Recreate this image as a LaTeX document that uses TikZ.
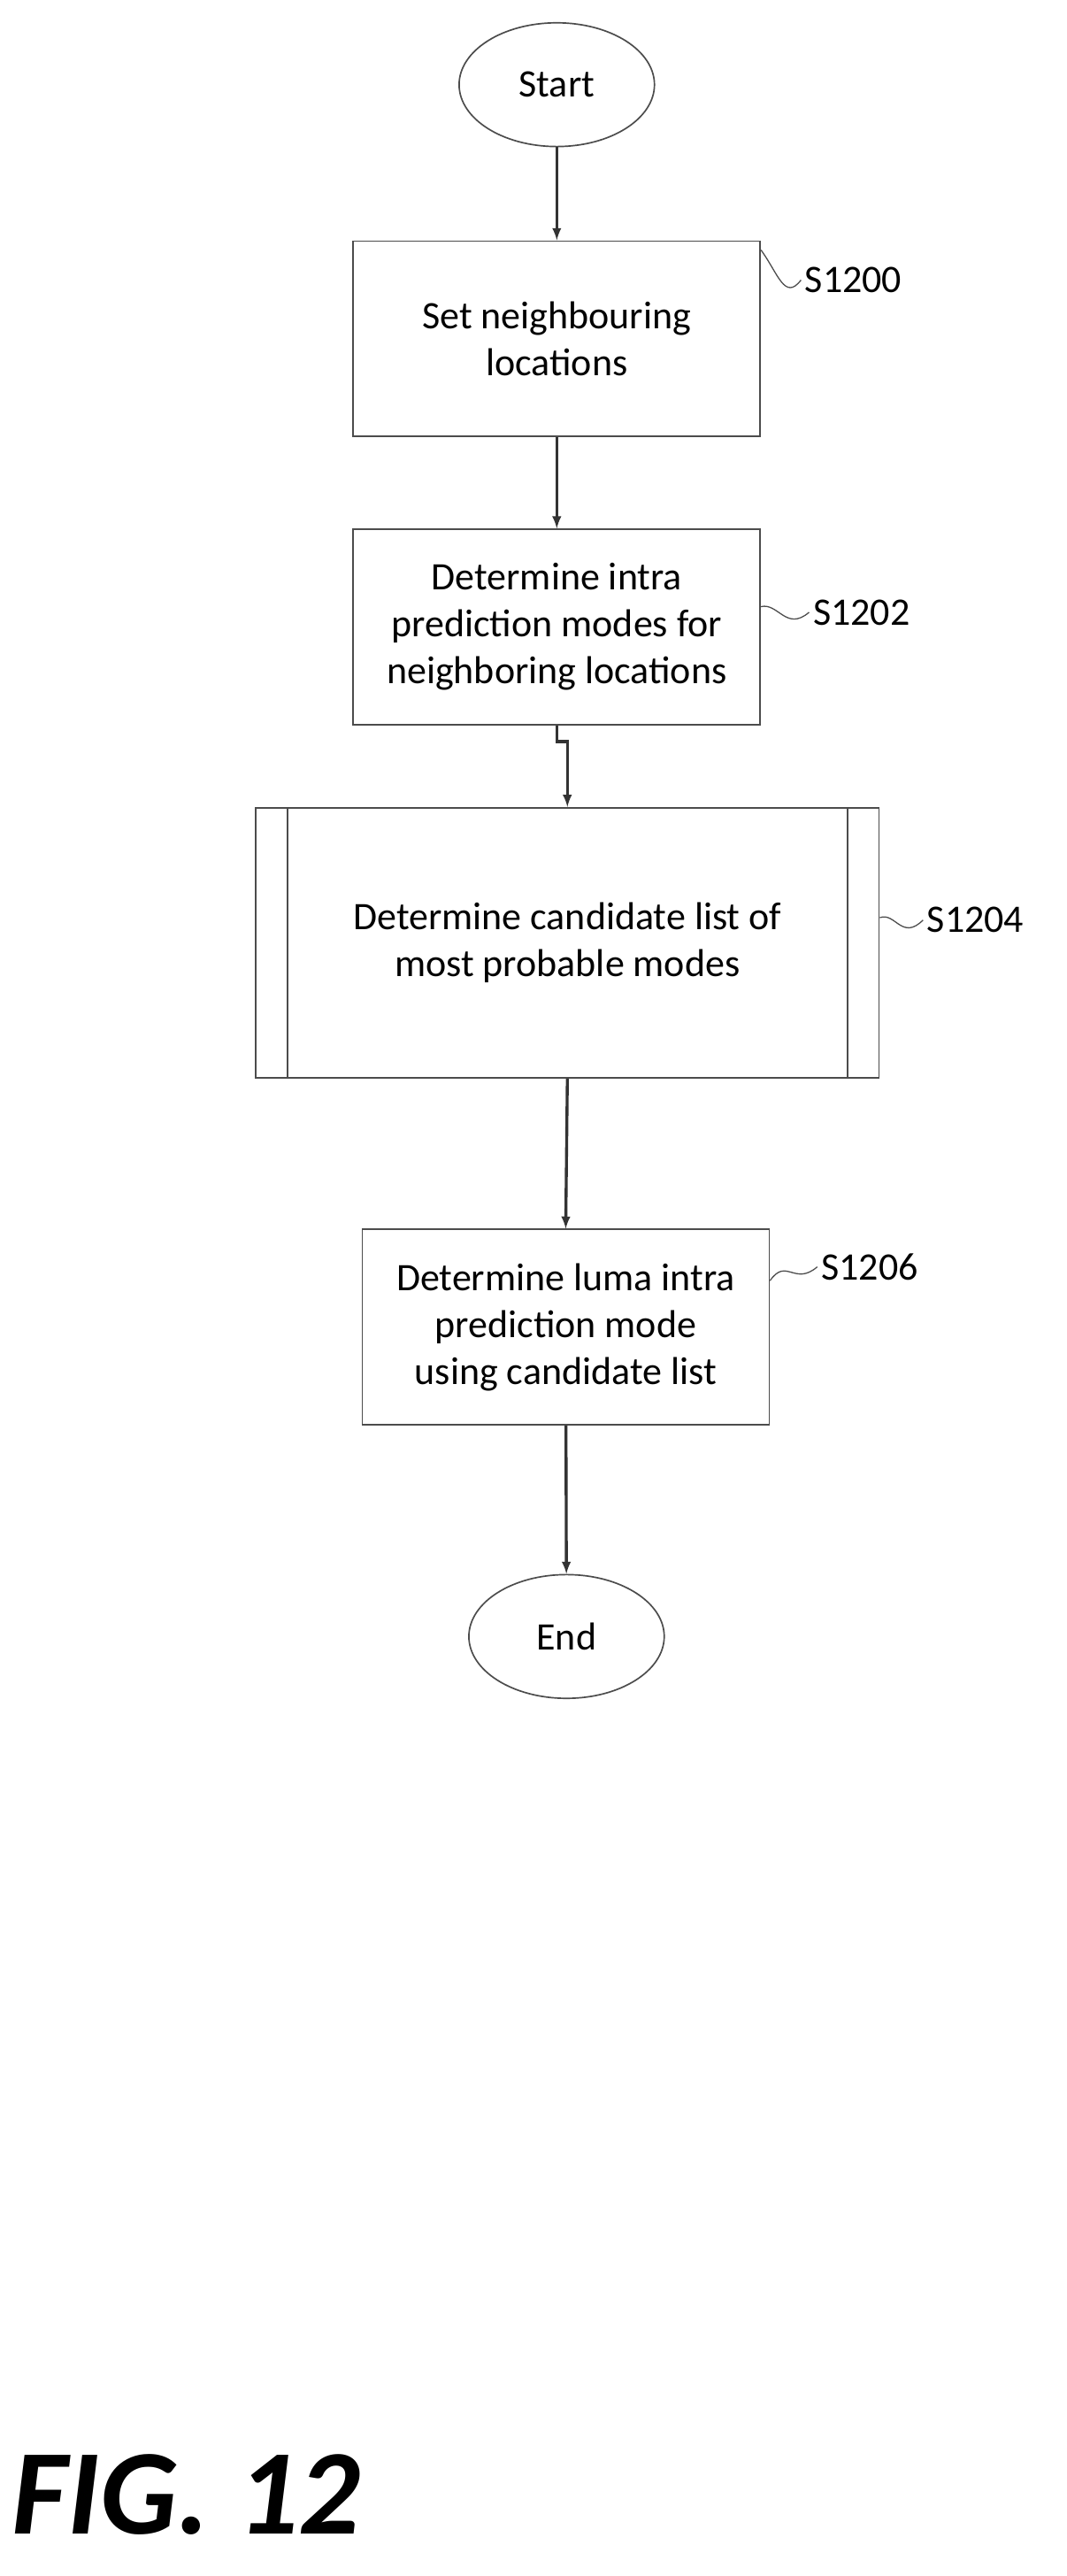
\documentclass[tikz,border=0pt]{standalone}
\usepackage{fontspec}
\setmainfont{Carlito}
\usetikzlibrary{shapes.geometric}
\tikzset{
  procbox/.style={draw=black!70, line width=1.3pt, minimum width=12.5cm, minimum height=6cm, align=center, font=\fontsize{34}{41}\selectfont},
  term/.style={draw=black!70, line width=1.3pt, ellipse, minimum width=6cm, minimum height=3.8cm, font=\fontsize{34}{41}\selectfont},
  flow/.style={-latex, line width=2.6pt, draw=black!80},
  tag/.style={font=\fontsize{34}{41}\selectfont, anchor=west},
  wave/.style={line width=1pt, draw=black!70}
}
\begin{document}
\begin{tikzpicture}[x=0.05cm,y=-0.05cm]
            \useasboundingbox (0,0) rectangle (655,1582);
            % Start and steps
            \node[term] (start) at (342,52) {Start};
            \node[procbox] (setloc) at (342,208) {Set neighbouring\\locations};
            \node[procbox] (modes) at (342,385) {Determine intra\\prediction modes for\\neighboring locations};
            \node[procbox, minimum width=19.15cm, minimum height=8.3cm] (cand) at (348.5,579) {Determine candidate list of\\most probable modes};
            \draw[black!70, line width=1.3pt] ([xshift=1cm]cand.north west) -- ([xshift=1cm]cand.south west);
            \draw[black!70, line width=1.3pt] ([xshift=-1cm]cand.north east) -- ([xshift=-1cm]cand.south east);
            \node[procbox] (luma) at (347.5,815) {Determine luma intra\\prediction mode\\using candidate list};
            \node[term] (end) at (348,1005) {End};

            % Labels
            \node[tag] (s1200) at (492,172) {S1200};
            \node[tag] (s1202) at (497,376) {S1202};
            \node[tag] (s1204) at (567,565) {S1204};
            \node[tag] (s1206) at (502,778) {S1206};
            \draw[wave] ([yshift=-0.3cm]setloc.north east) .. controls (478,168) and (482,185) .. (s1200.west);
            \draw[wave] ([yshift=-2.4cm]modes.north east) .. controls (478,370) and (483,388) .. (s1202.west);
            \draw[wave] ([yshift=-3.4cm]cand.north east) .. controls (550,560) and (554,578) .. (s1204.west);
            \draw[wave] ([yshift=-1.6cm]luma.north east) .. controls (483,772) and (488,790) .. (s1206.west);

            % Arrows
            \draw[flow] (start) -- (setloc);
            \draw[flow] (setloc) -- (modes);
            \draw[flow] (modes.south) -- ++(0,10) -| (cand.north);
            \draw[flow] (cand.south) -- (luma.north);
            \draw[flow] (luma) -- (end);

            \node[anchor=west, font=\fontsize{106}{116}\selectfont\bfseries\itshape] (fig) at (5,1532) {FIG. 12};
\end{tikzpicture}
\end{document}
